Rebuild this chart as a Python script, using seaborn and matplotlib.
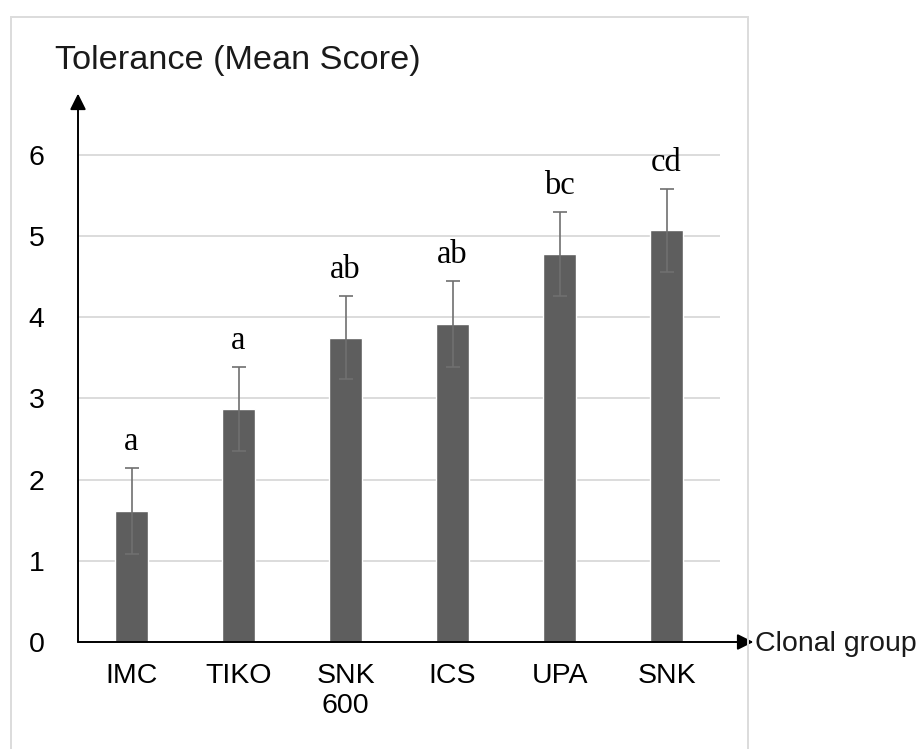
import numpy as np
import pandas as pd
import matplotlib
matplotlib.use("Agg")
import matplotlib.pyplot as plt
from matplotlib.patches import Rectangle
import seaborn as sns

# values
groups = ["IMC", "TIKO", "SNK\n600", "ICS", "UPA", "SNK"]
means = [1.61, 2.87, 3.75, 3.92, 4.78, 5.07]
errors = [0.53, 0.52, 0.51, 0.53, 0.52, 0.51]
letters = ["a", "a", "ab", "ab", "bc", "cd"]
yticks = [0, 1, 2, 3, 4, 5, 6]

sns.set_theme(style="white")
plt.rcParams['font.family'] = ['Liberation Sans', 'DejaVu Sans']

df = pd.DataFrame({"group": groups, "mean": means})

fig = plt.figure(figsize=(9.21, 7.49), dpi=100)
ax = fig.add_axes([78 / 921, 1 - 642 / 749, 642 / 921, 544 / 749])

# light frame around the chart, open at the bottom
fig.patches.append(Rectangle((11 / 921, -0.05), 737 / 921, 1.05 - 17 / 749,
                             transform=fig.transFigure, fill=False,
                             edgecolor="#dcdcdc", linewidth=1.4, zorder=0))

sns.barplot(data=df, x="group", y="mean", color="#5e5e5e", saturation=1,
            width=0.3, errorbar=None, ax=ax, zorder=2)
ax.errorbar(range(len(groups)), means, yerr=errors, fmt="none",
            ecolor="#707070", elinewidth=1.2, capsize=5, capthick=1.2, zorder=3)

for i, (m, e, lab) in enumerate(zip(means, errors, letters)):
    ax.annotate(lab, (i, m + e), xytext=(0, 13), textcoords="offset points",
                ha="center", va="baseline", fontsize=23.5,
                family="Liberation Serif", color="black")

ax.set_xlim(-0.5, 5.5)
ax.set_ylim(0, 6.7)
ax.set_yticks(yticks)
ax.yaxis.grid(True, color="#d9d9d9", linewidth=1.3)
ax.set_axisbelow(True)
for s in ax.spines.values():
    s.set_visible(False)
ax.tick_params(axis="both", length=0, labelsize=20.5, colors="black")
ax.tick_params(axis="y", pad=24)
ax.tick_params(axis="x", pad=15)
ax.set_xlabel("")
ax.set_ylabel("")

# arrowed axes
ax.annotate("", xy=(0, 1.008), xytext=(0, 0), xycoords="axes fraction",
            arrowprops=dict(arrowstyle="-|>", color="black", lw=1.4,
                            mutation_scale=24, shrinkA=0, shrinkB=0),
            annotation_clip=False)
ax.annotate("", xy=(1.052, 0), xytext=(0, 0), xycoords="axes fraction",
            arrowprops=dict(arrowstyle="-|>", color="black", lw=1.4,
                            mutation_scale=24, shrinkA=0, shrinkB=0),
            annotation_clip=False)

fig.text(55 / 921, 1 - 60 / 749, "Tolerance (Mean Score)", ha="left",
         va="center", fontsize=24.7, color="#1a1a1a")
fig.text(755 / 921, 1 - 651 / 749, "Clonal group", ha="left",
         va="baseline", fontsize=20.5, color="#1a1a1a")

fig.savefig("out.png", dpi=100)
